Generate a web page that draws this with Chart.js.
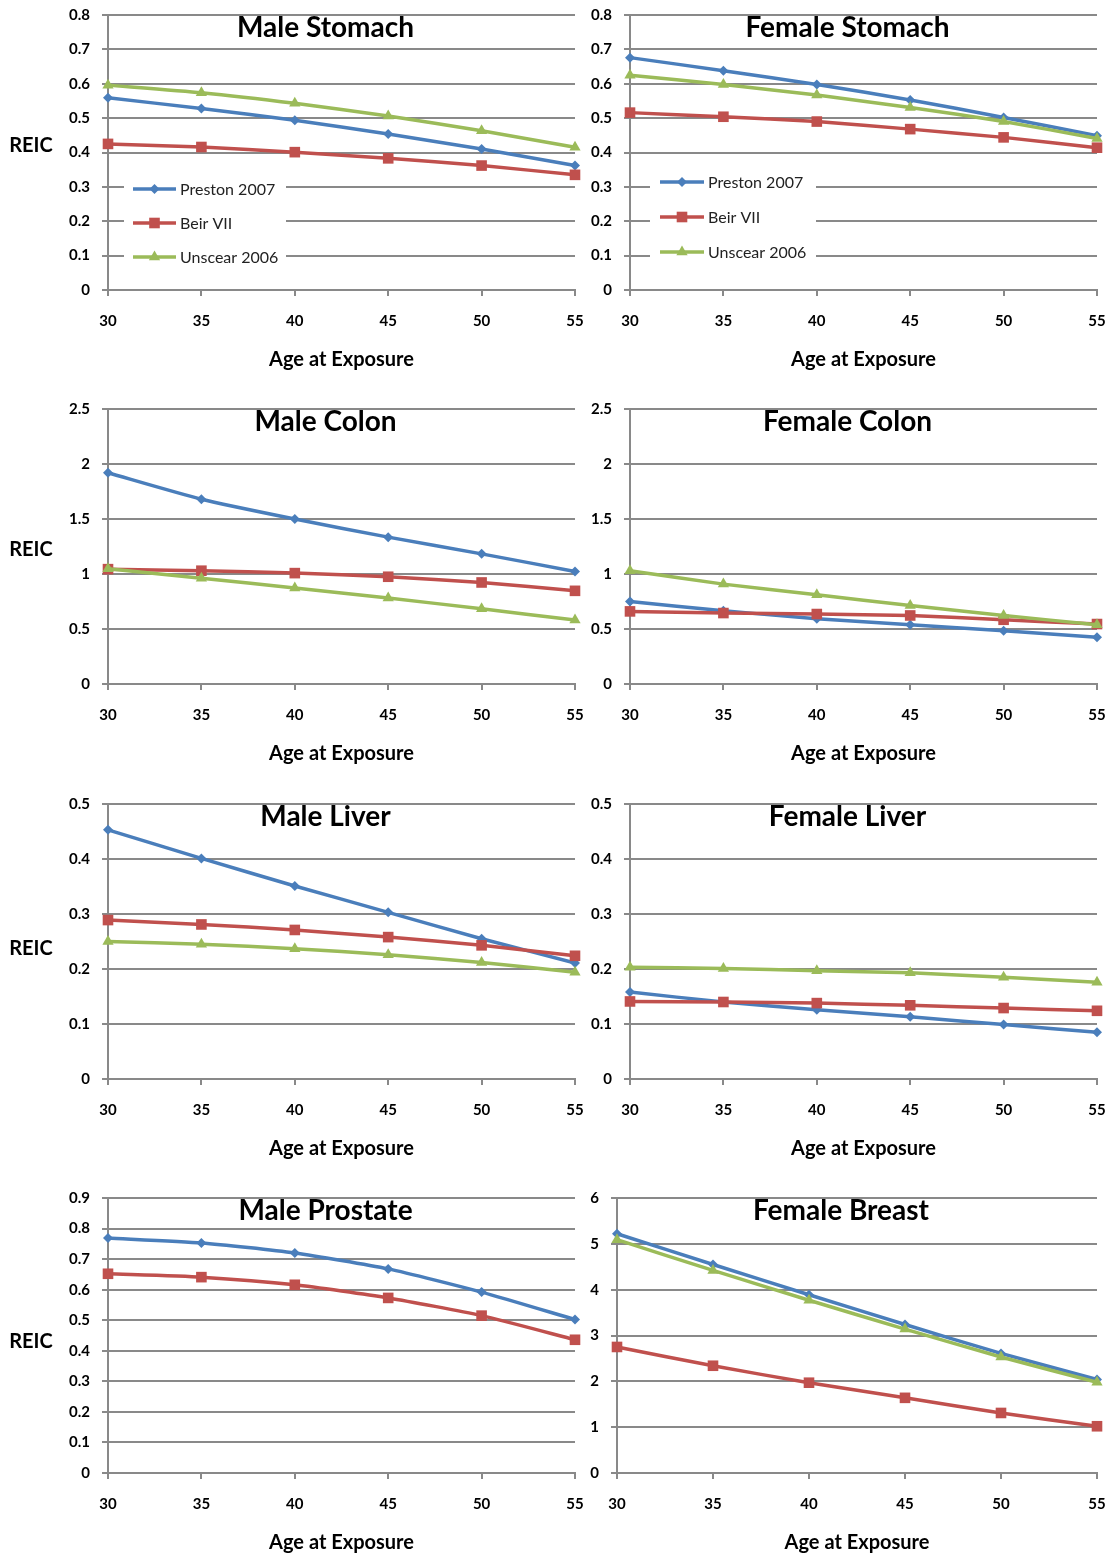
<!DOCTYPE html>
<html lang="en">
<head>
<meta charset="UTF-8">
<title>REIC by Age at Exposure</title>
<script src="https://cdn.jsdelivr.net/npm/chart.js"></script>
<style>
    body { margin: 0; background: #fff; }
    #page { position: relative; width: 1113px; height: 1557px; overflow: hidden; }
    #page canvas { position: absolute; }
</style>
</head>
<body>
<div id="page"></div>
<script>
// ages on the x axis
const ages = ['30', '35', '40', '45', '50', '55'];
const seriesNames = ['Preston 2007', 'Beir VII', 'Unscear 2006'];

// values
const maleStomachPreston = [0.559, 0.528, 0.494, 0.454, 0.410, 0.362];
const maleStomachBeir = [0.425, 0.416, 0.401, 0.383, 0.362, 0.335];
const maleStomachUnscear = [0.596, 0.574, 0.543, 0.506, 0.463, 0.415];

const femaleStomachPreston = [0.676, 0.638, 0.598, 0.553, 0.502, 0.449];
const femaleStomachBeir = [0.516, 0.504, 0.490, 0.468, 0.444, 0.414];
const femaleStomachUnscear = [0.625, 0.598, 0.567, 0.531, 0.490, 0.441];

const maleColonPreston = [1.92, 1.68, 1.50, 1.335, 1.183, 1.023];
const maleColonBeir = [1.044, 1.03, 1.008, 0.975, 0.923, 0.847];
const maleColonUnscear = [1.047, 0.962, 0.872, 0.781, 0.684, 0.581];

const femaleColonPreston = [0.75, 0.666, 0.593, 0.539, 0.484, 0.424];
const femaleColonBeir = [0.66, 0.645, 0.636, 0.623, 0.584, 0.545];
const femaleColonUnscear = [1.029, 0.908, 0.811, 0.714, 0.623, 0.539];

const maleLiverPreston = [0.453, 0.401, 0.351, 0.303, 0.255, 0.211];
const maleLiverBeir = [0.289, 0.281, 0.271, 0.258, 0.243, 0.224];
const maleLiverUnscear = [0.250, 0.245, 0.237, 0.226, 0.212, 0.194];

const femaleLiverPreston = [0.158, 0.140, 0.126, 0.113, 0.099, 0.085];
const femaleLiverBeir = [0.141, 0.140, 0.138, 0.134, 0.129, 0.124];
const femaleLiverUnscear = [0.203, 0.201, 0.197, 0.193, 0.185, 0.176];

const maleProstatePreston = [0.769, 0.753, 0.720, 0.668, 0.592, 0.502];
const maleProstateBeir = [0.652, 0.641, 0.616, 0.573, 0.515, 0.436];

const femaleBreastPreston = [5.22, 4.55, 3.89, 3.24, 2.61, 2.04];
const femaleBreastBeir = [2.75, 2.34, 1.97, 1.64, 1.31, 1.02];
const femaleBreastUnscear = [5.09, 4.42, 3.77, 3.14, 2.53, 1.98];

// styling
const colors = ['#4a7ebb', '#c0504d', '#9bbb59'];
const pointStyles = ['rectRot', 'rect', 'triangle'];
const pointSizes = [5, 7.5, 6.5];
const gridColor = '#898989';
const fontFamily = 'Lato, "Open Sans", sans-serif';

const rowTops = [15, 409, 804, 1198];
const plotHeight = 275;

const panels = [
    { title: 'Male Stomach', row: 0, col: 0, max: 0.8, step: 0.1, reicDy: -7,
      series: [maleStomachPreston, maleStomachBeir, maleStomachUnscear],
      legend: { box: [16, 178], line: [25, 68], text: 72, rows: [174, 208, 242] } },
    { title: 'Female Stomach', row: 0, col: 1, max: 0.8, step: 0.1,
      series: [femaleStomachPreston, femaleStomachBeir, femaleStomachUnscear],
      legend: { box: [20, 186], line: [30, 74], text: 78, rows: [167, 202, 237] } },
    { title: 'Male Colon', row: 1, col: 0, max: 2.5, step: 0.5, reicDy: 3,
      series: [maleColonPreston, maleColonBeir, maleColonUnscear] },
    { title: 'Female Colon', row: 1, col: 1, max: 2.5, step: 0.5,
      series: [femaleColonPreston, femaleColonBeir, femaleColonUnscear] },
    { title: 'Male Liver', row: 2, col: 0, max: 0.5, step: 0.1, reicDy: 7,
      series: [maleLiverPreston, maleLiverBeir, maleLiverUnscear] },
    { title: 'Female Liver', row: 2, col: 1, max: 0.5, step: 0.1,
      series: [femaleLiverPreston, femaleLiverBeir, femaleLiverUnscear] },
    { title: 'Male Prostate', row: 3, col: 0, max: 0.9, step: 0.1, reicDy: 6,
      series: [maleProstatePreston, maleProstateBeir] },
    { title: 'Female Breast', row: 3, col: 1, max: 6, step: 1, plotLeft: 617,
      series: [femaleBreastPreston, femaleBreastBeir, femaleBreastUnscear] }
];

function drawMarker(ctx, style, r, x, y, color) {
    ctx.save();
    ctx.fillStyle = color;
    ctx.beginPath();
    if (style === 'rectRot') {
        ctx.moveTo(x, y - r); ctx.lineTo(x + r, y); ctx.lineTo(x, y + r); ctx.lineTo(x - r, y);
    } else if (style === 'rect') {
        const s = r * Math.SQRT1_2;
        ctx.rect(x - s, y - s, 2 * s, 2 * s);
    } else {
        const h = r * 0.866;
        ctx.moveTo(x, y - r); ctx.lineTo(x + h, y + r / 2); ctx.lineTo(x - h, y + r / 2);
    }
    ctx.closePath();
    ctx.fill();
    ctx.restore();
}

// title inside the plot, the REIC label and the boxed legend
const panelText = {
    id: 'panelText',
    afterDraw(chart, args, opts) {
        const ctx = chart.ctx;
        const area = chart.chartArea;
        ctx.save();
        ctx.fillStyle = '#000';
        ctx.textBaseline = 'middle';
        ctx.textAlign = 'center';
        ctx.font = 'bold 28px ' + fontFamily;
        ctx.fillText(opts.title, (area.left + area.right) / 2 - 16, area.top + 13);
        if (opts.reic) {
            ctx.font = 'bold 20px ' + fontFamily;
            ctx.fillText('REIC', 31, (area.top + area.bottom) / 2 + opts.reicDy);
        }
        const lg = opts.legend;
        if (lg) {
            const x0 = area.left + lg.box[0], x1 = area.left + lg.box[1];
            const y0 = area.top + lg.rows[0] - 15, y1 = area.top + lg.rows[2] + 15;
            ctx.fillStyle = '#fff';
            ctx.fillRect(x0, y0, x1 - x0, y1 - y0);
            lg.rows.forEach((ry, i) => {
                const y = area.top + ry;
                const a = area.left + lg.line[0], b = area.left + lg.line[1];
                ctx.strokeStyle = colors[i];
                ctx.lineWidth = 3.5;
                ctx.beginPath();
                ctx.moveTo(a, y); ctx.lineTo(b, y);
                ctx.stroke();
                drawMarker(ctx, pointStyles[i], pointSizes[i], (a + b) / 2, y, colors[i]);
                ctx.fillStyle = '#222';
                ctx.textAlign = 'left';
                ctx.font = '16px ' + fontFamily;
                ctx.fillText(seriesNames[i], area.left + lg.text, y + 1);
            });
        }
        ctx.restore();
    }
};

const page = document.getElementById('page');

panels.forEach(p => {
    const canvasLeft = p.col === 0 ? 0 : 580;
    const canvasWidth = p.col === 0 ? 590 : 533;
    const plotLeft = p.plotLeft || (p.col === 0 ? 108 : 630);
    const plotRight = p.col === 0 ? 575 : 1097;
    const canvasTop = rowTops[p.row] - 15;
    const canvasHeight = Math.min(380, 1557 - canvasTop);

    const canvas = document.createElement('canvas');
    canvas.width = canvasWidth;
    canvas.height = canvasHeight;
    canvas.style.left = canvasLeft + 'px';
    canvas.style.top = canvasTop + 'px';
    canvas.style.width = canvasWidth + 'px';
    canvas.style.height = canvasHeight + 'px';
    page.appendChild(canvas);

    const n = p.series.length;
    const datasets = p.series.map((vals, i) => ({
        label: seriesNames[i],
        data: vals,
        borderColor: colors[i],
        backgroundColor: colors[i],
        borderWidth: 3.5,
        pointStyle: pointStyles[i],
        pointRadius: pointSizes[i],
        pointBorderWidth: 0,
        tension: 0.2,
        clip: false,
        order: n - 1 - i
    }));

    new Chart(canvas.getContext('2d'), {
        type: 'line',
        data: { labels: ages, datasets: datasets },
        options: {
            responsive: false,
            animation: false,
            layout: {
                autoPadding: false,
                padding: {
                    top: 15,
                    left: 0,
                    right: canvasWidth - (plotRight - canvasLeft),
                    bottom: canvasHeight - 15 - plotHeight - 80
                }
            },
            plugins: {
                legend: { display: false },
                tooltip: { enabled: false },
                panelText: {
                    title: p.title,
                    reic: p.col === 0,
                    reicDy: p.reicDy || 0,
                    legend: p.legend
                }
            },
            scales: {
                x: {
                    type: 'category',
                    offset: false,
                    ticks: {
                        color: '#000',
                        font: { family: fontFamily, weight: 'bold', size: 15 },
                        padding: 16,
                        maxRotation: 0,
                        autoSkip: false
                    },
                    grid: { drawOnChartArea: false, color: gridColor, lineWidth: 2, tickLength: 6 },
                    border: { display: true, color: gridColor, width: 2 },
                    title: {
                        display: true,
                        text: 'Age at Exposure',
                        color: '#000',
                        font: { family: fontFamily, weight: 'bold', size: 20, lineHeight: 1.0 },
                        padding: 0
                    },
                    afterFit: s => {
                        s.height = 80;
                        s.paddingLeft = 0;
                        s.paddingRight = 0;
                    }
                },
                y: {
                    min: 0,
                    max: p.max,
                    ticks: {
                        stepSize: p.step,
                        color: '#000',
                        font: { family: fontFamily, weight: 'bold', size: 15 },
                        padding: 12,
                        callback: v => String(Number(v.toFixed(2)))
                    },
                    grid: { color: gridColor, lineWidth: 2, tickLength: 6 },
                    border: { display: true, color: gridColor, width: 2 },
                    afterFit: s => {
                        s.width = plotLeft - canvasLeft;
                        s.paddingTop = 0;
                        s.paddingBottom = 0;
                    }
                }
            }
        },
        plugins: [panelText]
    });
});
</script>
</body>
</html>
